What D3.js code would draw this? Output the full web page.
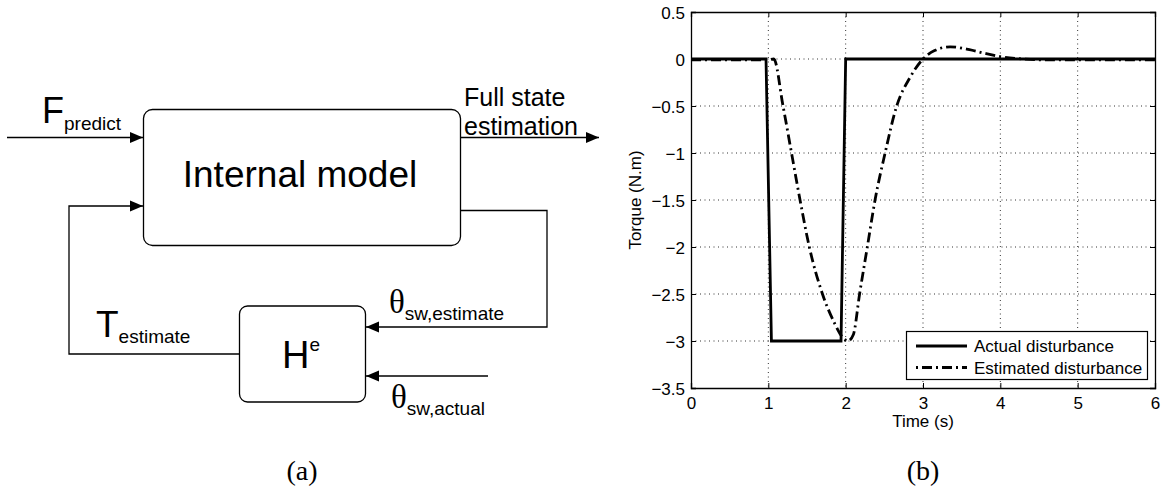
<!DOCTYPE html>
<html>
<head>
<meta charset="utf-8">
<script src="https://cdn.jsdelivr.net/npm/d3@7"></script>
<style>
    body { margin: 0; background: #fff; }
    svg { display: block; }
</style>
</head>
<body>
<div id="viz"></div>
<script>
// series
let actualTime = [0, 0.97, 1.04, 1.94, 2.0, 6];
let actualTorque = [0, 0, -3, -3, 0, 0];

let estTime = [0, 0.5, 1.0, 1.07, 1.19, 1.30, 1.41, 1.53, 1.70, 1.85, 1.95, 2.03, 2.10, 2.18, 2.28, 2.38, 2.51, 2.66, 2.83, 3.0, 3.15, 3.35, 3.6, 3.8, 4.0, 4.3, 4.6, 5, 6];
let estTorque = [-0.01, -0.01, -0.01, 0, -0.5, -1, -1.5, -2, -2.5, -2.8, -2.95, -3.0, -2.93, -2.5, -2, -1.5, -1, -0.5, -0.2, 0, 0.09, 0.13, 0.1, 0.06, 0.025, 0, -0.01, -0.01, -0.01];

let xTicks = [0, 1, 2, 3, 4, 5, 6];
let yTicks = [0.5, 0, -0.5, -1, -1.5, -2, -2.5, -3, -3.5];
let legendLabels = ["Actual disturbance", "Estimated disturbance"];

let sans = "'Liberation Sans', Arial, sans-serif";
let serif = "'Liberation Serif', 'DejaVu Serif', serif";
let dashDot = "10,4,2,4";

window.onload = function () {
    let svg = d3.select("#viz")
        .append("svg")
        .attr("width", 1162)
        .attr("height", 486);

    draw_diagram(svg);
    draw_plot(svg);

    // sub-figure captions
    svg.append("text").attr("x", 302).attr("y", 480)
        .attr("text-anchor", "middle").style("font-family", serif).style("font-size", "28px")
        .text("(a)");
    svg.append("text").attr("x", 923).attr("y", 480)
        .attr("text-anchor", "middle").style("font-family", serif).style("font-size", "28px")
        .text("(b)");
};

function arrow(g, pts) {
    g.append("polyline")
        .attr("points", pts.map(p => p.join(",")).join(" "))
        .attr("fill", "none")
        .attr("stroke", "#000")
        .attr("stroke-width", 1.3);
    // head at last point, pointing along last segment
    let a = pts[pts.length - 2], b = pts[pts.length - 1];
    let ang = Math.atan2(b[1] - a[1], b[0] - a[0]);
    let len = 13, hw = 5.5;
    let p1 = [b[0] - len * Math.cos(ang) + hw * Math.sin(ang), b[1] - len * Math.sin(ang) - hw * Math.cos(ang)];
    let p2 = [b[0] - len * Math.cos(ang) - hw * Math.sin(ang), b[1] - len * Math.sin(ang) + hw * Math.cos(ang)];
    g.append("polygon")
        .attr("points", [b, p1, p2].map(p => p.join(",")).join(" "))
        .attr("fill", "#000");
}

function label(g, x, y, main, sub, opts) {
    let t = g.append("text").attr("x", x).attr("y", y)
        .style("font-family", opts.mainFamily || sans)
        .style("font-size", opts.mainSize + "px");
    t.append("tspan").text(main);
    t.append("tspan")
        .attr("dy", opts.shift)
        .style("font-family", sans)
        .style("font-size", opts.subSize + "px")
        .text(sub);
}

function draw_diagram(svg) {
    let g = svg.append("g");

    // blocks
    g.append("rect").attr("x", 143.5).attr("y", 109.5).attr("width", 317).attr("height", 136)
        .attr("rx", 9).attr("fill", "none").attr("stroke", "#000").attr("stroke-width", 1.3);
    g.append("rect").attr("x", 239.5).attr("y", 306).attr("width", 126).attr("height", 96)
        .attr("rx", 8).attr("fill", "none").attr("stroke", "#000").attr("stroke-width", 1.3);

    g.append("text").attr("x", 300).attr("y", 187).attr("text-anchor", "middle")
        .style("font-family", sans).style("font-size", "37px").text("Internal model");

    label(g, 282, 368, "H", "e", {mainSize: 38, subSize: 19, shift: -17});

    // signals
    arrow(g, [[7, 137.5], [143, 137.5]]);
    arrow(g, [[461, 137.5], [599, 137.5]]);
    arrow(g, [[461, 210.5], [547, 210.5], [547, 327], [366, 327]]);
    arrow(g, [[488, 376], [366, 376]]);
    arrow(g, [[239, 354], [69, 354], [69, 206], [143, 206]]);

    label(g, 42, 123, "F", "predict", {mainSize: 36, subSize: 19, shift: 7});
    label(g, 96, 337, "T", "estimate", {mainSize: 37, subSize: 19, shift: 6});
    label(g, 389, 313, "θ", "sw,estimate", {mainSize: 33, subSize: 19, mainFamily: serif, shift: 7});
    label(g, 391, 408, "θ", "sw,actual", {mainSize: 33, subSize: 19, mainFamily: serif, shift: 7});

    g.append("text").attr("x", 464).attr("y", 106)
        .style("font-family", sans).style("font-size", "25px").text("Full state");
    g.append("text").attr("x", 464).attr("y", 135)
        .style("font-family", sans).style("font-size", "25px").text("estimation");
}

function fmt(v) {
    return String(v).replace("-", "\u2212");
}

function draw_plot(svg) {
    let left = 691, right = 1155, top = 12, bottom = 388;

    let x = d3.scaleLinear().domain([0, 6]).range([left, right]);
    let y = d3.scaleLinear().domain([-3.5, 0.5]).range([bottom, top]);

    let g = svg.append("g");

    // dotted grid
    g.selectAll(".gx").data(xTicks.slice(1, -1)).enter().append("line")
        .attr("x1", d => x(d)).attr("x2", d => x(d))
        .attr("y1", top).attr("y2", bottom)
        .attr("stroke", "#333").attr("stroke-width", 1).attr("stroke-dasharray", "1,3.5");
    g.selectAll(".gy").data(yTicks.slice(1, -1)).enter().append("line")
        .attr("x1", left).attr("x2", right)
        .attr("y1", d => y(d)).attr("y2", d => y(d))
        .attr("stroke", "#333").attr("stroke-width", 1).attr("stroke-dasharray", "1,3.5");

    // axes (ticks pointing inward)
    let ax = g.append("g").attr("transform", "translate(0," + bottom + ")")
        .call(d3.axisBottom(x).tickValues(xTicks).tickSize(-5).tickPadding(10).tickFormat(fmt));
    let ay = g.append("g").attr("transform", "translate(" + left + ",0)")
        .call(d3.axisLeft(y).tickValues(yTicks).tickSize(-5).tickPadding(6).tickFormat(fmt));
    g.append("g").attr("transform", "translate(0," + top + ")")
        .call(d3.axisTop(x).tickValues(xTicks).tickSize(-5).tickFormat(""));
    g.append("g").attr("transform", "translate(" + right + ",0)")
        .call(d3.axisRight(y).tickValues(yTicks).tickSize(-5).tickFormat(""));

    g.selectAll(".domain").attr("stroke", "#000").attr("stroke-width", 1.3);
    g.selectAll(".tick line").attr("stroke", "#000");
    g.selectAll(".tick text")
        .style("font-family", sans).style("font-size", "17px").attr("fill", "#000");
    ax.selectAll(".tick text").attr("dy", "0.71em").attr("y", 9);
    ay.selectAll(".tick text").attr("dy", "0.36em");

    // lines
    let actual = actualTime.map((t, i) => [t, actualTorque[i]]);
    let est = estTime.map((t, i) => [t, estTorque[i]]);

    let line = d3.line().x(d => x(d[0])).y(d => y(d[1]));
    let smooth = d3.line().x(d => x(d[0])).y(d => y(d[1])).curve(d3.curveMonotoneX);

    g.append("path").attr("d", line(actual))
        .attr("fill", "none").attr("stroke", "#000").attr("stroke-width", 2.8);
    g.append("path").attr("d", smooth(est))
        .attr("fill", "none").attr("stroke", "#000").attr("stroke-width", 2.8)
        .attr("stroke-dasharray", dashDot);

    // axis titles
    svg.append("text").attr("x", x(3)).attr("y", 427).attr("text-anchor", "middle")
        .style("font-family", sans).style("font-size", "17px").text("Time (s)");
    svg.append("text").attr("transform", "translate(641," + ((top + bottom) / 2) + ") rotate(-90)")
        .attr("text-anchor", "middle")
        .style("font-family", sans).style("font-size", "17px").text("Torque (N.m)");

    // legend
    let lg = svg.append("g");
    lg.append("rect").attr("x", 906.5).attr("y", 331.5).attr("width", 241).attr("height", 48)
        .attr("fill", "#fff").attr("stroke", "#000").attr("stroke-width", 1.2);
    let dashes = [null, "2,4,10,4"];
    legendLabels.forEach((lab, i) => {
        let yy = 346 + i * 21.5;
        lg.append("line").attr("x1", 916).attr("x2", 967).attr("y1", yy).attr("y2", yy)
            .attr("stroke", "#000").attr("stroke-width", 2.8)
            .attr("stroke-dasharray", dashes[i]);
        lg.append("text").attr("x", 974).attr("y", yy + 6)
            .style("font-family", sans).style("font-size", "17px").text(lab);
    });
}
</script>
</body>
</html>
